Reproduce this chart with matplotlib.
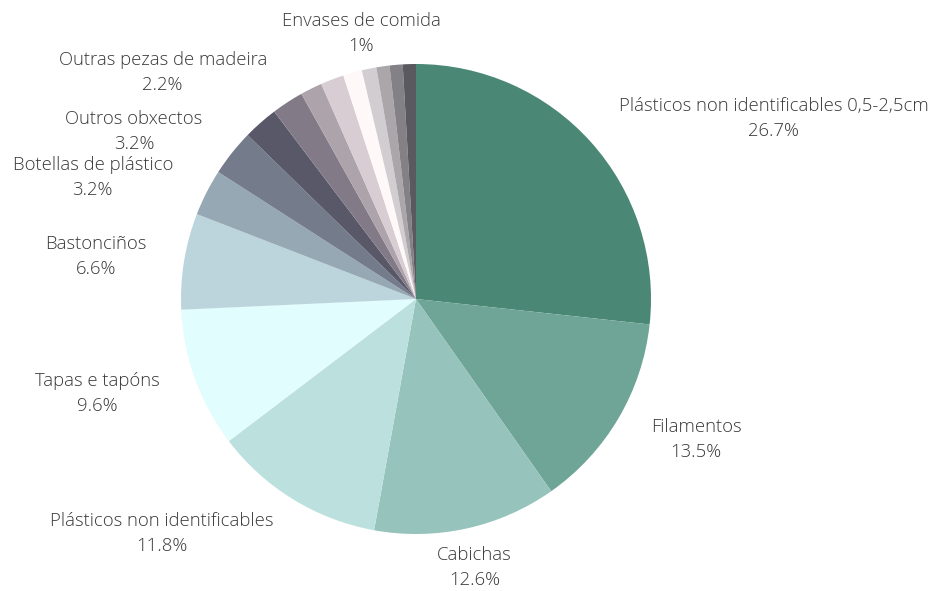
import numpy as np
import matplotlib
matplotlib.use("Agg")
import matplotlib.pyplot as plt
from matplotlib import font_manager

# ---- data ----
categories = [
    "Plásticos non identificables 0,5-2,5cm", "Filamentos", "Cabichas",
    "Plásticos non identificables", "Tapas e tapóns", "Bastonciños",
    "Botellas de plástico", "Outros obxectos", "", "Outras pezas de madeira",
    "", "", "", "Envases de comida", "", "", "",
]
values = [26.7, 13.5, 12.6, 11.8, 9.6, 6.6, 3.2, 3.2, 2.4, 2.2,
          1.5, 1.6, 1.3, 1.0, 0.9, 0.9, 0.9]
pct_labels = ["26.7%", "13.5%", "12.6%", "11.8%", "9.6%", "6.6%", "3.2%", "3.2%", "",
              "2.2%", "", "", "", "1%", "", "", ""]
colors = ["#4a8775", "#6ea596", "#96c3bb", "#bbe0dd", "#e1fdfd", "#bcd5dc",
          "#96a8b3", "#747b8b", "#585869", "#837a88", "#ada3ab", "#d7cdd2",
          "#fff8f8", "#d1cdd0", "#aaa6aa", "#848186", "#5a595f"]

# ---- font ----
fams = {f.name for f in font_manager.fontManager.ttflist}
family = "Open Sans" if "Open Sans" in fams else "DejaVu Sans"

W, H = 930, 591
fig = plt.figure(figsize=(W / 100, H / 100), dpi=100)
cx, cy, R = 416, 299, 235
ax = fig.add_axes([(cx - R) / W, (H - cy - R) / H, 2 * R / W, 2 * R / H])
ax.pie(values, colors=colors, startangle=90, counterclock=False,
       wedgeprops=dict(linewidth=0), normalize=True)
ax.set_xlim(-1, 1)
ax.set_ylim(-1, 1)
ax.set_aspect("equal")
ax.axis("off")

total = sum(values)
cum = np.cumsum([0] + values[:-1])
label_r = 1.16
for name, pct, v, c0 in zip(categories, pct_labels, values, cum):
    if not name:
        continue
    mid = (c0 + v / 2) / total * 2 * np.pi  # clockwise from top
    s, c = np.sin(mid), np.cos(mid)
    x, y = label_r * s, label_r * c
    if abs(s) < 0.3:
        ha = "center"
    elif s > 0:
        ha = "left"
    else:
        ha = "right"
    ax.text(x, y - 0.008, f"{name}\n{pct}", ha=ha, va="center", multialignment="center",
            fontsize=13.3, family=family, fontweight="light", color="#383838",
            linespacing=1.5, clip_on=False)

fig.savefig("out.png", dpi=100, facecolor="white")
